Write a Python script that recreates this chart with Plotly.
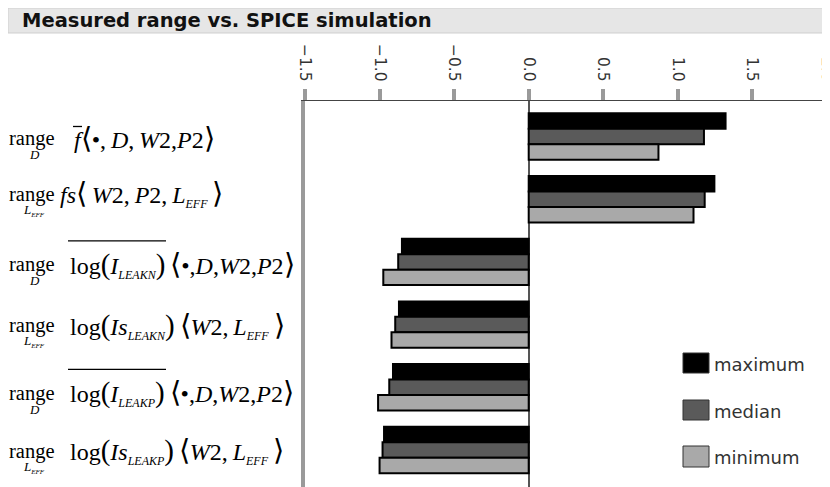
import plotly.graph_objects as go

# ---------------- data ----------------
categories = ["f_bar", "fs", "logI_LEAKN", "logIs_LEAKN", "logI_LEAKP", "logIs_LEAKP"]
series_names = ["maximum", "median", "minimum"]
maximum = [1.32, 1.245, -0.85, -0.87, -0.91, -0.97]
median = [1.175, 1.18, -0.875, -0.895, -0.935, -0.98]
minimum = [0.87, 1.105, -0.975, -0.92, -1.01, -1.00]
tick_vals = [-1.5, -1.0, -0.5, 0.0, 0.5, 1.0, 1.5, 2.0]
tick_text = ["\u22121.5", "\u22121.0", "\u22120.5", "0.0", "0.5", "1.0", "1.5", "2.0"]

TS = "\u2009"  # thin space
SUB = "<sub><span style='font-size:12px'><i>{}</i></span></sub>"
BIG = "<span style='font-size:29px'>{}</span>"
label_expr = [
    "<i>f</i>" + BIG.format("⟨") + "•," + TS + "<i>D</i>," + TS + "<i>W</i>2,<i>P</i>2" + BIG.format("⟩"),
    "<i>fs</i>" + BIG.format("⟨") + TS + "<i>W</i>2," + TS + "<i>P</i>2," + TS + "<i>L</i>" + SUB.format("EFF") + TS + BIG.format("⟩"),
    "log" + BIG.format("(") + "<i>I</i>" + SUB.format("LEAKN") + BIG.format(")") + TS + BIG.format("⟨") + "•,<i>D</i>,<i>W</i>2,<i>P</i>2" + BIG.format("⟩"),
    "log" + BIG.format("(") + "<i>Is</i>" + SUB.format("LEAKN") + BIG.format(")") + TS + BIG.format("⟨") + "<i>W</i>2," + TS + "<i>L</i>" + SUB.format("EFF") + TS + BIG.format("⟩"),
    "log" + BIG.format("(") + "<i>I</i>" + SUB.format("LEAKP") + BIG.format(")") + TS + BIG.format("⟨") + "•,<i>D</i>,<i>W</i>2,<i>P</i>2" + BIG.format("⟩"),
    "log" + BIG.format("(") + "<i>Is</i>" + SUB.format("LEAKP") + BIG.format(")") + TS + BIG.format("⟨") + "<i>W</i>2," + TS + "<i>L</i>" + SUB.format("EFF") + TS + BIG.format("⟩"),
]
label_under = ["<i>D</i>", "<i>L</i><sub><span style='font-size:7px'><i>EFF</i></span></sub>"] * 3

colors = ["#000000", "#5a5a5a", "#a9a9a9"]

# ---------------- layout (reference pixel coords; page body adds an 8px offset) ----------------
OFF = 8
W, H = 830 - OFF, 487 - OFF
L, R, T, B = 305 - OFF, 3, 101 - OFF, 0
PW, PH = W - L - R, H - T - B


def px_x(p):
    return (p - OFF - L) / PW


def px_y(p):
    return (H - B - (p - OFF)) / PH


expr_x = [72, 58, 68, 68, 68, 68]          # where each expression starts
label_dy = [2, -5, 3, 1, 6, 1]             # vertical offset of each label line
under_x = [27, 21, 27, 21, 27, 21]
overlines = {0: (73, 82, 12), 2: (68, 166, 24), 4: (68, 166, 24)}

fig = go.Figure()
for name, vals, col in zip(series_names, [maximum, median, minimum], colors):
    fig.add_trace(go.Bar(
        y=categories, x=vals, name=name, orientation="h",
        marker=dict(color=col, line=dict(color="#000000", width=2)),
        showlegend=False,
    ))

Y_RANGE = [5.59, -0.566]
cat_px = PH / (Y_RANGE[0] - Y_RANGE[1])

annotations = []
shapes = []

# title bar
shapes.append(dict(type="rect", xref="paper", yref="paper",
                   x0=px_x(8), x1=px_x(834), y0=px_y(33), y1=px_y(8),
                   fillcolor="#e6e6e6", line=dict(color="#cfcfcf", width=1), layer="below"))
annotations.append(dict(text="<b>Measured range vs. SPICE simulation</b>", xref="paper", yref="paper",
                        x=px_x(20), y=px_y(21), xanchor="left", yanchor="middle", showarrow=False,
                        font=dict(family="DejaVu Sans", size=19.5, color="#111111")))

# category labels
for i, cat in enumerate(categories):
    dy = label_dy[i]
    annotations.append(dict(text="range", xref="paper", yref="y", x=px_x(7), y=cat,
                            xanchor="left", yanchor="middle", yshift=-dy, showarrow=False,
                            font=dict(family="Liberation Serif", size=20.5, color="#000000")))
    annotations.append(dict(text=label_expr[i], xref="paper", yref="y", x=px_x(expr_x[i]), y=cat,
                            xanchor="left", yanchor="middle", yshift=-dy, showarrow=False,
                            font=dict(family="Liberation Serif", size=24, color="#000000")))
    annotations.append(dict(text=label_under[i], xref="paper", yref="y", x=px_x(under_x[i]), y=cat,
                            xanchor="left", yanchor="middle", yshift=-dy - 16, showarrow=False,
                            font=dict(family="Liberation Serif", size=13, color="#000000")))
    if i in overlines:
        x0, x1, up = overlines[i]
        yy = i + (dy - up) / cat_px
        shapes.append(dict(type="line", xref="paper", yref="y", x0=px_x(x0), x1=px_x(x1),
                           y0=yy, y1=yy, line=dict(color="#000000", width=1.3)))

# legend (manual, large swatches)
leg_rows = [(353, 373), (400, 420), (446, 467)]
for name, col, (ya, yb) in zip(series_names, colors, leg_rows):
    shapes.append(dict(type="rect", xref="paper", yref="paper", x0=px_x(683), x1=px_x(709),
                       y0=px_y(yb), y1=px_y(ya), fillcolor=col, line=dict(color="#333333", width=1)))
    annotations.append(dict(text=name, xref="paper", yref="paper", x=px_x(712), y=px_y((ya + yb) / 2 + 1),
                            xanchor="left", yanchor="middle", showarrow=False,
                            font=dict(family="DejaVu Sans", size=18, color="#333333")))

fig.update_layout(
    width=W, height=H, margin=dict(l=L, r=R, t=T, b=B, pad=0, autoexpand=False),
    paper_bgcolor="#ffffff", plot_bgcolor="#ffffff",
    barmode="group", bargap=0.26, bargroupgap=0.0,
    showlegend=False,
    annotations=annotations, shapes=shapes,
    xaxis=dict(side="top", range=[-1.5, 2.0001], tickvals=tick_vals, ticktext=tick_text,
               tickangle=90, ticks="outside", ticklen=11, tickwidth=4, tickcolor="#9a9a9a",
               ticklabelstandoff=2, automargin=False, ticklabeloverflow="allow",
               tickfont=dict(family="DejaVu Sans", size=15.5, color="#333333"),
               showgrid=False, zeroline=True, zerolinecolor="#555555", zerolinewidth=1.5,
               showline=True, linecolor="#444444", linewidth=1),
    yaxis=dict(type="category", categoryorder="array", categoryarray=categories,
               range=Y_RANGE, showticklabels=False, ticks="", showgrid=False, automargin=False,
               zeroline=False, showline=True, mirror=True, linecolor="#9a9a9a", linewidth=4),
)

fig.write_html("out.html")
